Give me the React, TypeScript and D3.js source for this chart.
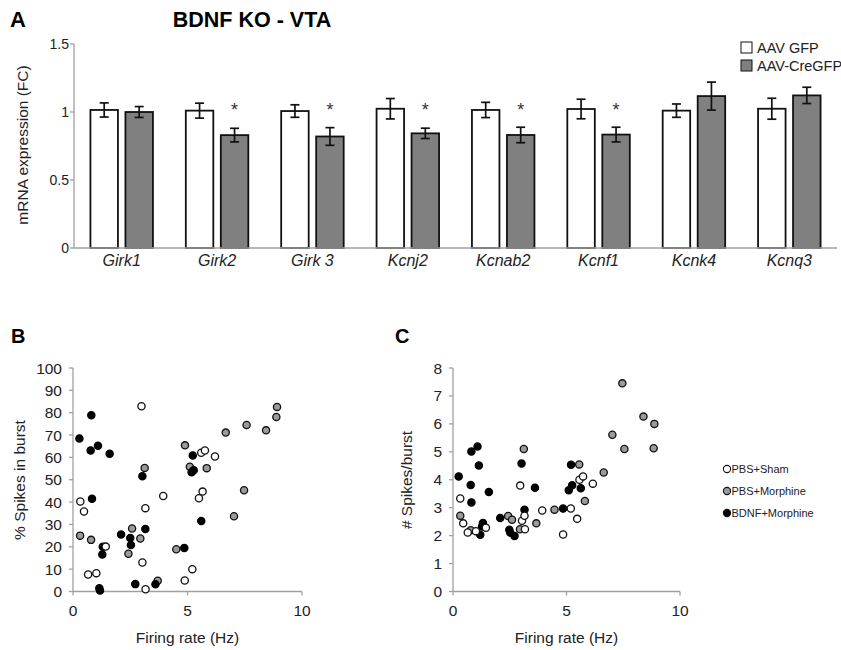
import React from "react";
import * as d3 from "d3";

// ---------- Panel A data ----------
const genes = ["Girk1", "Girk2", "Girk 3", "Kcnj2", "Kcnab2", "Kcnf1", "Kcnk4", "Kcnq3"];
const gfpMean = [1.015, 1.01, 1.007, 1.024, 1.015, 1.022, 1.01, 1.024];
const gfpErr = [0.052, 0.055, 0.046, 0.075, 0.056, 0.072, 0.049, 0.077];
const creMean = [1.0, 0.83, 0.82, 0.843, 0.831, 0.834, 1.117, 1.122];
const creErr = [0.04, 0.05, 0.065, 0.038, 0.057, 0.054, 0.103, 0.06];
const significant = [false, true, true, true, true, true, false, false];
const yTicksA = [0, 0.5, 1, 1.5];
const legendA = ["AAV GFP", "AAV-CreGFP"];

// ---------- Panel B data (% spikes in burst) ----------
const bShamPts: [number, number][] = [
  [2.99, 82.9], [0.32, 40.3], [0.48, 35.8], [0.66, 7.6], [1.02, 8.2], [1.43, 20.1],
  [3.03, 13.0], [3.17, 1.0], [3.16, 37.3], [3.94, 42.7], [4.88, 4.9], [5.21, 10.0],
  [5.5, 41.7], [5.66, 44.7], [5.6, 62.1], [5.76, 63.1], [6.2, 60.4],
];
const bPbsMorPts: [number, number][] = [
  [0.31, 25.0], [0.79, 23.1], [2.42, 16.9], [2.58, 28.2], [2.94, 23.7], [3.13, 55.3],
  [3.7, 4.8], [4.51, 18.9], [4.89, 65.4], [5.1, 55.8], [5.84, 55.2], [6.67, 71.1],
  [7.58, 74.5], [8.43, 72.1], [8.88, 78.1], [8.91, 82.6], [7.47, 45.3], [7.03, 33.7],
];
const bBdnfMorPts: [number, number][] = [
  [0.28, 68.5], [0.8, 78.9], [0.77, 63.1], [1.09, 65.2], [1.6, 61.6], [0.83, 41.5],
  [1.15, 1.4], [1.18, 0.4], [1.3, 20.0], [1.28, 16.6], [2.1, 25.5], [2.5, 23.9],
  [2.53, 20.8], [3.16, 28.0], [3.03, 51.6], [2.72, 3.3], [3.6, 3.2], [4.86, 19.5],
  [5.23, 60.9], [5.18, 53.4], [5.27, 54.3], [5.6, 31.5],
];
const yTicksB = [0, 10, 20, 30, 40, 50, 60, 70, 80, 90, 100];

// ---------- Panel C data (# spikes / burst) ----------
const cShamPts: [number, number][] = [
  [0.32, 3.33], [0.45, 2.44], [0.65, 2.11], [1.01, 2.16], [1.45, 2.28], [2.96, 3.79],
  [3.04, 2.53], [3.15, 2.71], [3.17, 2.23], [3.93, 2.9], [4.85, 2.04], [5.19, 2.97],
  [5.47, 2.6], [5.57, 4.0], [5.73, 4.12], [6.16, 3.86],
];
const cPbsMorPts: [number, number][] = [
  [0.32, 2.71], [0.78, 2.19], [2.43, 2.7], [2.6, 2.57], [2.95, 2.23], [3.12, 5.1],
  [3.67, 2.44], [4.47, 2.93], [5.56, 4.55], [5.81, 3.24], [6.64, 4.26], [7.02, 5.61],
  [7.46, 7.45], [7.55, 5.1], [8.39, 6.26], [8.84, 5.13], [8.87, 6.0],
];
const cBdnfMorPts: [number, number][] = [
  [0.25, 4.12], [0.81, 5.01], [1.08, 5.19], [1.14, 4.51], [0.78, 3.81], [0.81, 3.19],
  [1.2, 2.03], [1.32, 2.45], [1.28, 2.33], [1.58, 3.56], [2.08, 2.63], [2.48, 2.21],
  [2.52, 2.11], [2.71, 1.99], [3.02, 4.58], [3.15, 2.93], [3.61, 3.71], [4.85, 2.97],
  [5.2, 4.54], [5.1, 3.62], [5.25, 3.8], [5.63, 3.7],
];
const yTicksC = [0, 1, 2, 3, 4, 5, 6, 7, 8];
const xTicksBC = [0, 5, 10];
const groupNames = ["PBS+Sham", "PBS+Morphine", "BDNF+Morphine"];

const FONT = "'Liberation Sans', Arial, Helvetica, sans-serif";
const AXIS = "#a0a0a0";
const GRAYFILL = "#808080";
const DOTGRAY = "#9a9a9a";

function BarPanel() {
  const x = d3.scaleBand<string>().domain(genes).range([74, 837]).paddingInner(0).paddingOuter(0);
  const y = d3.scaleLinear().domain([0, 1.5]).range([248, 44]);
  const bw = 27.5;
  const inner = 7.5;
  return (
    <g>
      <text x={10} y={27} fontSize={22} fontWeight="bold" fontFamily={FONT}>A</text>
      <text x={252} y={27} fontSize={21.5} fontWeight="bold" fontFamily={FONT} textAnchor="middle">BDNF KO - VTA</text>
      {/* y axis */}
      <line x1={74} x2={74} y1={y(1.5)} y2={y(0)} stroke={AXIS} strokeWidth={1.3} />
      {yTicksA.map((t) => (
        <g key={t}>
          <line x1={70} x2={74} y1={y(t)} y2={y(t)} stroke={AXIS} strokeWidth={1.3} />
          <text x={69} y={y(t) + 5} fontSize={14} fontFamily={FONT} textAnchor="end" fill="#222">{t}</text>
        </g>
      ))}
      <text transform={`translate(28,${145}) rotate(-90)`} fontSize={15.5} fontFamily={FONT} textAnchor="middle" fill="#222">mRNA expression (FC)</text>
      {genes.map((g, i) => {
        const c = (x(g) as number) + x.bandwidth() / 2;
        const wx = c - inner / 2 - bw;
        const gx = c + inner / 2;
        return (
          <g key={g}>
            <rect x={wx} y={y(gfpMean[i])} width={bw} height={y(0) - y(gfpMean[i])} fill="#fff" stroke="#111" strokeWidth={1.8} />
            <rect x={gx} y={y(creMean[i])} width={bw} height={y(0) - y(creMean[i])} fill={GRAYFILL} stroke="#111" strokeWidth={1.8} />
            {[
              [wx + bw / 2, gfpMean[i], gfpErr[i]],
              [gx + bw / 2, creMean[i], creErr[i]],
            ].map(([cx, m, e], k) => (
              <g key={k} stroke="#111" strokeWidth={1.7}>
                <line x1={cx} x2={cx} y1={y(m + e)} y2={y(m - e)} />
                <line x1={cx - 4.5} x2={cx + 4.5} y1={y(m + e)} y2={y(m + e)} />
                <line x1={cx - 4.5} x2={cx + 4.5} y1={y(m - e)} y2={y(m - e)} />
              </g>
            ))}
            {significant[i] && (
              <text x={gx + bw / 2} y={116} fontSize={18} fontFamily={FONT} textAnchor="middle" fill="#333">*</text>
            )}
            <text x={c} y={266} fontSize={16} fontStyle="italic" fontFamily={FONT} textAnchor="middle" fill="#222">{g}</text>
          </g>
        );
      })}
      <line x1={74} x2={837} y1={y(0)} y2={y(0)} stroke={AXIS} strokeWidth={1.3} />
      {legendA.map((l, i) => (
        <g key={l}>
          <rect x={741} y={42 + i * 18} width={11} height={11} fill={i === 0 ? "#fff" : GRAYFILL} stroke="#111" strokeWidth={1} />
          <text x={757} y={52.5 + i * 18} fontSize={14.5} fontFamily={FONT} fill="#222">{l}</text>
        </g>
      ))}
    </g>
  );
}

type ScatterProps = {
  label: string;
  labelX: number;
  x0: number;
  x1: number;
  yMax: number;
  yTicks: number[];
  yLabel: string;
  yLabelX: number;
  sham: [number, number][];
  pbs: [number, number][];
  bdnf: [number, number][];
};

function Scatter(p: ScatterProps) {
  const x = d3.scaleLinear().domain([0, 10]).range([p.x0, p.x1]);
  const y = d3.scaleLinear().domain([0, p.yMax]).range([591.5, 368]);
  const r = 3.6;
  return (
    <g>
      <text x={p.labelX} y={343} fontSize={20} fontWeight="bold" fontFamily={FONT}>{p.label}</text>
      <line x1={p.x0} x2={p.x0} y1={y(p.yMax)} y2={y(0)} stroke={AXIS} strokeWidth={1.3} />
      {p.yTicks.map((t) => (
        <g key={t}>
          <line x1={p.x0 - 4} x2={p.x0} y1={y(t)} y2={y(t)} stroke={AXIS} strokeWidth={1.3} />
          <text x={p.x0 - 11} y={y(t) + 5.5} fontSize={15.5} fontFamily={FONT} textAnchor="end" fill="#222">{t}</text>
        </g>
      ))}
      <line x1={p.x0} x2={p.x1} y1={y(0)} y2={y(0)} stroke={AXIS} strokeWidth={1.3} />
      {xTicksBC.map((t) => (
        <g key={t}>
          <line x1={x(t)} x2={x(t)} y1={y(0)} y2={y(0) + 4} stroke={AXIS} strokeWidth={1.3} />
          <text x={x(t)} y={616} fontSize={15.5} fontFamily={FONT} textAnchor="middle" fill="#222">{t}</text>
        </g>
      ))}
      <text x={(p.x0 + p.x1) / 2} y={643} fontSize={15.5} fontFamily={FONT} textAnchor="middle" fill="#222">Firing rate (Hz)</text>
      <text transform={`translate(${p.yLabelX},${480}) rotate(-90)`} fontSize={15.5} fontFamily={FONT} textAnchor="middle" fill="#222">{p.yLabel}</text>
      {p.pbs.map((d, i) => (
        <circle key={"g" + i} cx={x(d[0])} cy={y(d[1])} r={r} fill={DOTGRAY} stroke="#111" strokeWidth={1.3} />
      ))}
      {p.bdnf.map((d, i) => (
        <circle key={"b" + i} cx={x(d[0])} cy={y(d[1])} r={r} fill="#000" stroke="#000" strokeWidth={1.3} />
      ))}
      {p.sham.map((d, i) => (
        <circle key={"s" + i} cx={x(d[0])} cy={y(d[1])} r={r} fill="#fff" stroke="#111" strokeWidth={1.3} />
      ))}
    </g>
  );
}

export default function App() {
  const fills = ["#fff", DOTGRAY, "#000"];
  return (
    <svg width={841} height={650} style={{ position: "absolute", left: 0, top: 0, background: "#fff" }}>
      <rect x={0} y={0} width={841} height={650} fill="#fff" />
      <BarPanel />
      <Scatter label="B" labelX={11} x0={73} x1={302} yMax={100} yTicks={yTicksB} yLabel="% Spikes in burst" yLabelX={25}
        sham={bShamPts} pbs={bPbsMorPts} bdnf={bBdnfMorPts} />
      <Scatter label="C" labelX={395} x0={453} x1={680} yMax={8} yTicks={yTicksC} yLabel="# Spikes/burst" yLabelX={412}
        sham={cShamPts} pbs={cPbsMorPts} bdnf={cBdnfMorPts} />
      {groupNames.map((n, i) => (
        <g key={n}>
          <circle cx={727} cy={469 + i * 22} r={3.6} fill={fills[i]} stroke="#111" strokeWidth={1.1} />
          <text x={731.5} y={473 + i * 22} fontSize={11} fontFamily={FONT} fill="#222">{n}</text>
        </g>
      ))}
    </svg>
  );
}
